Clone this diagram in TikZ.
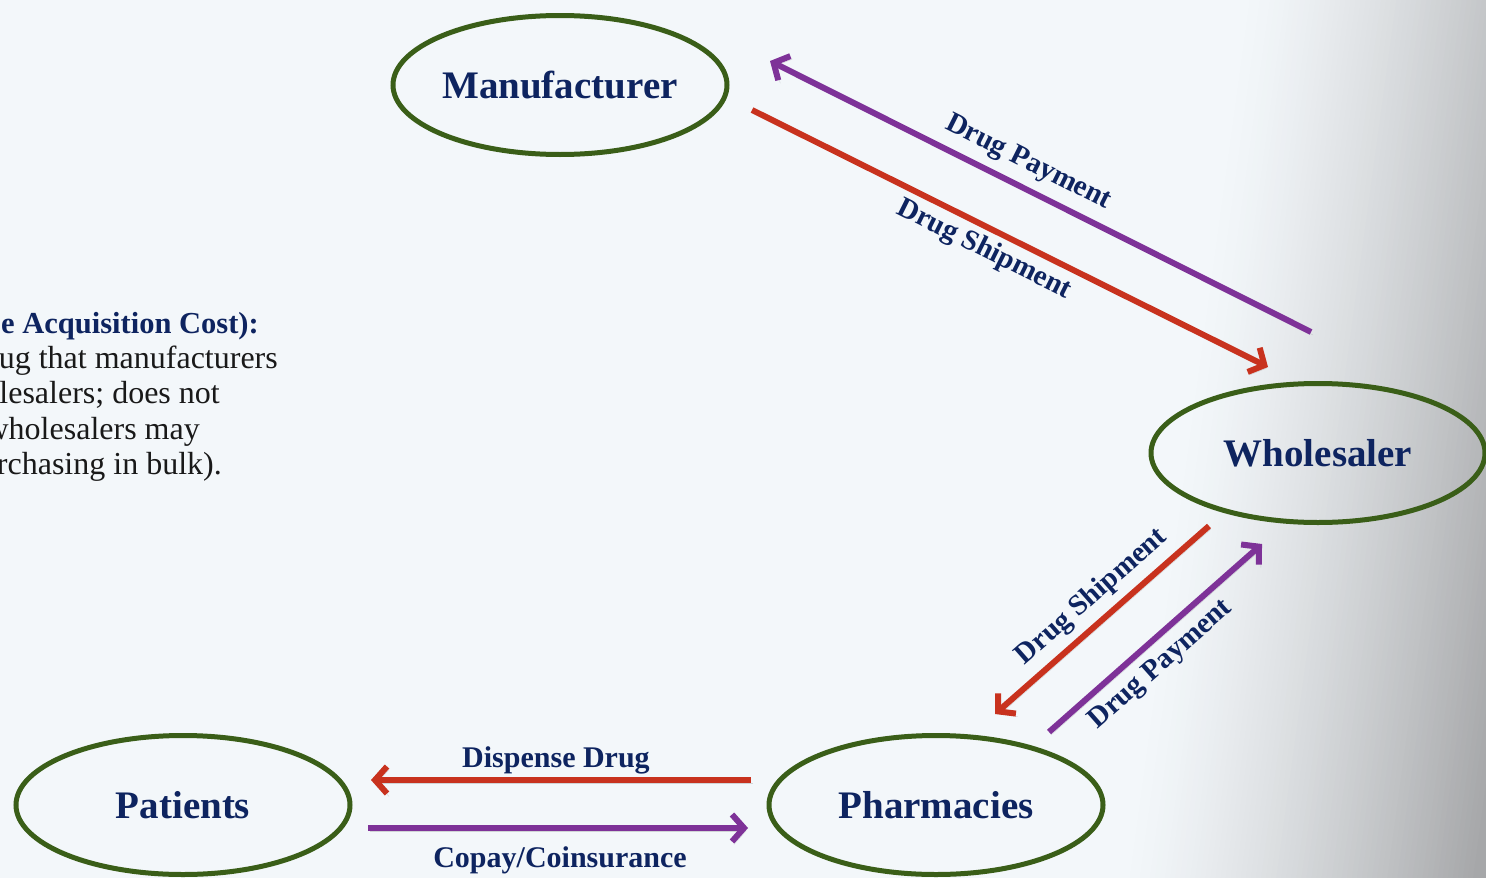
\documentclass[tikz,border=0pt]{standalone}
\usepackage{fontspec}
\setmainfont{Liberation Serif}
\usetikzlibrary{arrows.meta,shapes.geometric}
\definecolor{bgc}{RGB}{243,247,250}
\definecolor{edgec}{RGB}{166,167,169}
\definecolor{navy}{RGB}{14,36,96}
\definecolor{ellgreen}{RGB}{58,94,24}
\definecolor{redc}{RGB}{200,50,30}
\definecolor{purc}{RGB}{126,50,152}
\definecolor{bodyc}{RGB}{25,25,25}
\begin{document}
\begin{tikzpicture}[x=1pt,y=-1pt,
  entity/.style={ellipse, draw=ellgreen, line width=5pt, minimum width=334pt, minimum height=139pt, inner sep=0pt, text=navy, font=\fontsize{39}{44}\selectfont\bfseries},
  lbl/.style={text=navy, inner sep=0pt, font=\fontsize{29}{33}\selectfont\bfseries},
  hlbl/.style={lbl, font=\fontsize{30}{34}\selectfont\bfseries},
  bodytxt/.style={text=bodyc, inner sep=0pt, anchor=base east, font=\fontsize{32}{36}\selectfont},
  boldtxt/.style={text=navy, inner sep=0pt, anchor=base west, font=\fontsize{30.5}{34}\selectfont\bfseries},
  flow/.style={line width=6pt, -{Straight Barb[length=12pt,width=27pt]},
    preaction={draw=black, draw opacity=0.14, transform canvas={shift={(2pt,-3pt)}}}},
  redflow/.style={flow, draw=redc},
  purflow/.style={flow, draw=purc}]
\useasboundingbox (0,0) rectangle (1486,878);
\begin{scope}
  \clip (0,0) rectangle (1486,878);
  \fill[bgc] (0,0) rectangle (1486,878);
  % grey fall-off towards the right edge
  \foreach \i in {0,...,71} {
    \pgfmathsetmacro\dd{5*\i}
    \pgfmathsetmacro\pp{min(100,100*(\dd/350)^1.35)}
    \fill[edgec!\pp!bgc] ({1240+1.009*\dd},0) -- ({1240+1.009*(\dd+5.6)},0)
      -- ({1120+1.009*(\dd+5.6)},878) -- ({1120+1.009*\dd},878) -- cycle;
  }
  \fill[edgec] ({1240+1.009*360},0) -- (1700,0) -- (1700,878) -- ({1120+1.009*360},878) -- cycle;
\end{scope}

% entities
\node[entity] (manu) at (560,85) {Manufacturer};
\node[entity] (whole) at (1318,453) {Wholesaler};
\node[entity] (pharm) at (936,805) {Pharmacies};
\node[entity] (pat) at (183,805) {Patients};

% connector end points
\coordinate (mwPayS) at (1311,332);
\coordinate (mwPayE) at (770,61);
\coordinate (mwShipS) at (752,110);
\coordinate (mwShipE) at (1268,367);
\coordinate (wpShipS) at (1209,526);
\coordinate (wpShipE) at (995,714);
\coordinate (pwPayS) at (1049,732);
\coordinate (pwPayE) at (1262,544);
\coordinate (ppDispS) at (751,780);
\coordinate (ppDispE) at (371,780);
\coordinate (ppPayS) at (368,828);
\coordinate (ppPayE) at (748,828);

\draw[purflow] (mwPayS) -- (mwPayE);
\draw[redflow] (mwShipS) -- (mwShipE);
\draw[redflow] (wpShipS) -- (wpShipE);
\draw[purflow] (pwPayS) -- (pwPayE);
\draw[redflow] (ppDispS) -- (ppDispE);
\draw[purflow] (ppPayS) -- (ppPayE);

% labels
\node[lbl, rotate=-26.6] (l1) at (1028,163) {Drug Payment};
\node[lbl, rotate=-26.5] (l2) at (984,250) {Drug Shipment};
\node[lbl, rotate=41.3] (l3) at (1092,597) {Drug Shipment};
\node[lbl, rotate=41.5] (l4) at (1161,665) {Drug Payment};
\node[hlbl] (l5) at (556,760) {Dispense Drug};
\node[hlbl] (l6) at (560,860) {Copay/Coinsurance};

% left text (cropped at the picture's edge)
\node[boldtxt] (t1) at (1,333) {e Acquisition Cost):};
\node[bodytxt] (t2) at (278,368) {ug that manufacturers};
\node[bodytxt] (t3) at (220,403) {lesalers; does not};
\node[bodytxt] (t4) at (200,439) {wholesalers may};
\node[bodytxt] (t5) at (222,474) {rchasing in bulk).};
\end{tikzpicture}
\end{document}
